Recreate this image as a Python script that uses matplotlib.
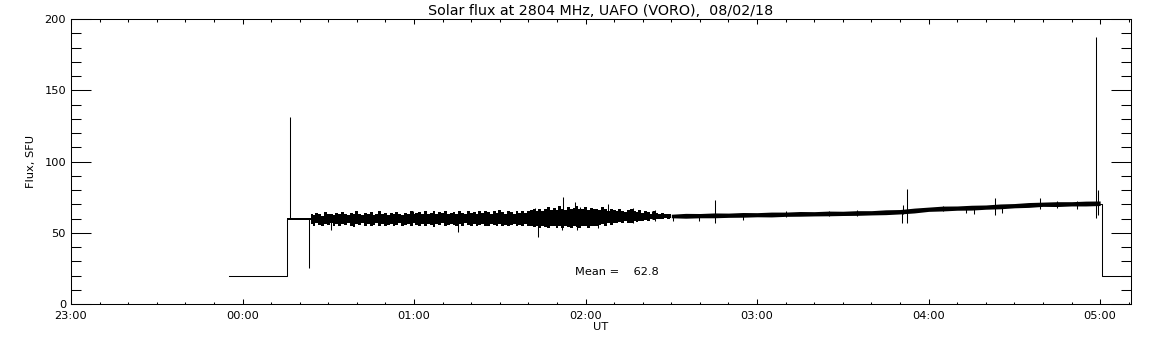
import numpy as np
import matplotlib
matplotlib.use("Agg")
import matplotlib.pyplot as plt
from matplotlib.ticker import MultipleLocator, FixedLocator

# ---------------- data ----------------
title = "Solar flux at 2804 MHz, UAFO (VORO),  08/02/18"
x_label = "UT"
y_label = "Flux, SFU"
x_tick_hours = [-1, 0, 1, 2, 3, 4, 5]
x_tick_labels = ["23:00", "00:00", "01:00", "02:00", "03:00", "04:00", "05:00"]
mean_text = "Mean =    62.8"

# step parts of the trace (hours after 00:00 UT, SFU)
start_t = [-0.079, 0.2587, 0.2587]
start_v = [20, 20, 59.5]
end_t = [5.0, 5.01, 5.01, 5.18]
end_v = [70.5, 70.5, 20, 20]

# short flat part right after switch-on (minutes, SFU)
flat_min = [15.5, 24.0]
flat_lo = [58.8, 58.8]
flat_hi = [60.3, 60.3]

# noisy part: envelope every minute (minutes after 00:00)
noisy_min = list(range(24, 151))
noisy_hi = [63, 62.5, 64, 63.5, 62, 64.5, 63, 63.5, 62.5, 64,
            63, 64.5, 63.5, 62.5, 64, 63, 65, 63.5, 62.5, 64,
            63.5, 64.5, 62.5, 63.5, 65, 63, 64, 62.5, 64, 63.5,
            64.5, 63, 62.5, 64, 63.5, 65, 63, 64, 64.5, 63,
            65, 63.5, 64, 65.5, 63, 64.5, 64, 65.5, 63.5, 64,
            64.5, 63, 65, 64, 63.5, 65.5, 64, 64.5, 63.5, 65,
            64, 65.5, 64.5, 63.5, 65, 64, 66, 64.5, 63.5, 65,
            64.5, 63.5, 65, 64, 65.5, 64, 65, 66, 66.5, 65.5,
            67, 65.5, 66.5, 68, 66, 67.5, 66, 68.5, 67, 66,
            68, 66.5, 67.5, 69, 66.5, 67, 68, 66, 67.5, 66.5,
            67, 66, 68, 66.5, 65.5, 67, 66, 65, 66.5, 65,
            64.5, 66, 67, 65, 64.5, 66, 64, 65, 64.5, 63.5,
            65, 64, 63.5, 64, 63, 63.5, 63]
noisy_lo = [56, 55, 56.5, 55.5, 54.5, 56, 55.5, 56.5, 55, 56,
            54.5, 56, 55.5, 56.5, 55, 54, 56, 55.5, 56.5, 55,
            56, 54.5, 55.5, 56.5, 55, 56, 54.5, 55.5, 56, 55,
            55.5, 56.5, 54.5, 55.5, 56, 55, 56.5, 55.5, 54.5, 56,
            55, 56, 55.5, 54, 56, 55.5, 56.5, 54.5, 55.5, 56,
            55.5, 54.5, 56, 55, 56.5, 55.5, 54.5, 56, 55, 55.5,
            56, 55, 54.5, 56, 55.5, 54.5, 56, 55, 55.5, 54.5,
            55.5, 56, 54.5, 55.5, 55, 56, 54.5, 55, 54, 55,
            53.5, 55, 54, 53, 54.5, 55, 53.5, 54.5, 53, 55,
            54, 53.5, 55, 54, 53, 54.5, 55, 53.5, 54.5, 55,
            54.5, 55.5, 56, 55, 56.5, 55.5, 57, 56.5, 57.5, 56.5,
            58, 57, 56.5, 58, 57.5, 58.5, 58, 59, 58.5, 59.5,
            59, 60, 59.5, 60, 60.5, 60, 60.5]

# quiet part: envelope every 5 minutes
quiet_min = list(range(155, 301, 5))
quiet_hi = [63.6, 63.5, 63.9, 63.8, 64.2, 64.1, 64.5, 64.5, 64.9, 64.8,
            65.2, 65.1, 65.5, 65.5, 66.1, 66.3, 67.3, 68.0, 68.7, 68.8,
            69.3, 69.5, 70.2, 70.5, 71.2, 71.5, 71.8, 71.8, 72.2, 72.3]
quiet_lo = [60.2, 60.5, 60.5, 60.8, 60.9, 61.2, 61.1, 61.5, 61.6, 61.8,
            61.9, 62.1, 62.2, 62.5, 62.7, 63.2, 63.9, 65.0, 65.3, 65.8,
            65.9, 66.5, 66.8, 67.5, 67.8, 68.5, 68.4, 68.8, 68.8, 69.1]

# single-sample spikes (minutes, low, high)
spike_min = [16.6, 23.2, 31.1, 59.7, 64.1, 66.5, 75.4,
             102.4, 103.4, 111.6, 112.1, 116.2, 117, 118, 124.2, 127.9,
             136.6, 143.4, 144.2, 150.5, 159.6, 165.3, 175, 190, 205, 215,
             230.7, 231, 232.4, 245, 253.2, 256, 263.4, 265.8, 278.8, 285, 292,
             298.6, 299.4]
spike_lo = [59.5, 25, 52, 58, 58, 58, 50.7,
            60, 47.2, 52, 60, 60, 52, 60, 53.5, 60,
            57, 60, 58, 58, 58.5, 56.6, 58.8, 61, 61.5, 62,
            57.1, 63, 56.6, 65, 63.6, 63.5, 62.5, 64, 66.4, 67.5, 67,
            60.1, 62.5]
spike_hi = [131.4, 59.5, 60, 65.5, 65.5, 65.2, 60,
            67.1, 60, 60, 75.3, 71.8, 60, 68.3, 60, 70.2,
            67.1, 65.5, 66, 62, 62, 73, 63, 65.5, 65.5, 66,
            65, 69.5, 80.7, 69, 67, 68, 74.2, 69, 74.2, 72.5, 72,
            187.5, 80]

# ---------------- plot ----------------
W, H, DPI = 1152, 345, 100
fig = plt.figure(figsize=(W / DPI, H / DPI), dpi=DPI)
ax = fig.add_axes([71 / W, 1 - 304 / H, (1131 - 71) / W, (304 - 19) / H])

lw = 0.75
ax.plot(start_t, start_v, color="black", lw=lw)
ax.plot(end_t, end_v, color="black", lw=lw)

ax.fill_between(np.array(flat_min) / 60.0, flat_lo, flat_hi, color="black", lw=0)
ax.fill_between(np.array(noisy_min) / 60.0, noisy_lo, noisy_hi,
                step="mid", color="black", lw=0)
ax.fill_between(np.array([150] + quiet_min) / 60.0,
                [noisy_lo[-1]] + quiet_lo, [noisy_hi[-1]] + quiet_hi,
                color="black", lw=0)
ax.vlines(np.array(spike_min) / 60.0, spike_lo, spike_hi, color="black", lw=lw)

ax.set_xlim(-1, 5.18)
ax.set_ylim(0, 200)

ax.xaxis.set_major_locator(FixedLocator(x_tick_hours))
ax.set_xticklabels(x_tick_labels)
ax.xaxis.set_minor_locator(MultipleLocator(1 / 6))
ax.yaxis.set_major_locator(MultipleLocator(50))
ax.yaxis.set_minor_locator(MultipleLocator(10))

ax.tick_params(axis="x", which="major", direction="in", length=3.6, width=0.75,
               top=True, bottom=True, labelsize=8.2, pad=5)
ax.tick_params(axis="x", which="minor", direction="in", length=1.8, width=0.75,
               top=True, bottom=True)
ax.tick_params(axis="y", which="major", direction="in", length=14.4, width=0.75,
               left=True, right=True, labelsize=8.2, pad=3.6)
ax.tick_params(axis="y", which="minor", direction="in", length=7.2, width=0.75,
               left=True, right=True)
for s in ax.spines.values():
    s.set_linewidth(0.75)

ax.set_title(title, fontsize=10.3, pad=3)
ax.set_xlabel(x_label, fontsize=8.2, labelpad=1)
ax.set_ylabel(y_label, fontsize=8.2, labelpad=6)
ax.text(1.937, 22.5, mean_text, fontsize=8.2, ha="left", va="center")

fig.savefig("out.png", dpi=DPI)
